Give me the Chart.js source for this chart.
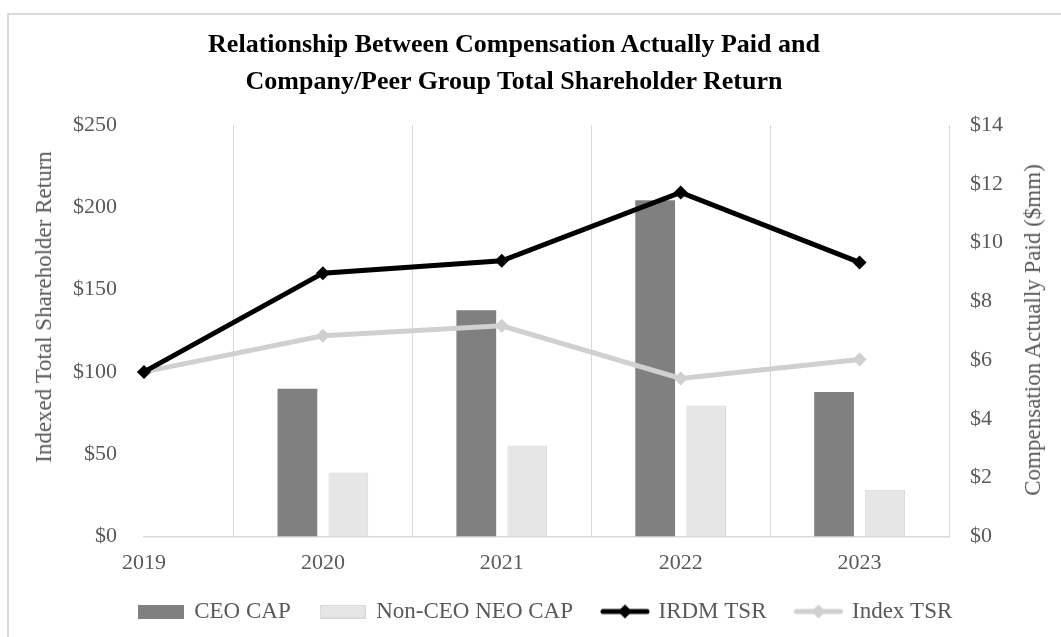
<!DOCTYPE html>
<html>
<head>
<meta charset="utf-8">
<script src="https://cdn.jsdelivr.net/npm/chart.js@4"></script>
<style>
  body { margin: 0; background: #fff; }
  #frame { position: absolute; left: 7px; top: 13px; width: 2000px; height: 2000px;
           border-left: 2px solid #d9d9d9; border-top: 2px solid #d9d9d9; }
  #chart { position: absolute; left: 0; top: 0; }
  #title { position: absolute; left: 0; top: 25px; width: 1028px; text-align: center;
           font: bold 26px/37px 'Liberation Serif', 'Times New Roman', serif; color: #000; }
  .ytitle { position: absolute; white-space: nowrap; color: #595959; line-height: 1;
            font: 23px 'Liberation Serif', 'Times New Roman', serif;
            transform: translate(-50%, -50%) rotate(-90deg); }
  #yLeft { left: 44px; top: 307px; }
  #yRight { left: 1033px; top: 330px; }
</style>
</head>
<body>
<div id="frame"></div>
<canvas id="chart" width="1061" height="637"></canvas>
<div id="title">Relationship Between Compensation Actually Paid and<br>Company/Peer Group Total Shareholder Return</div>
<div class="ytitle" id="yLeft">Indexed Total Shareholder Return</div>
<div class="ytitle" id="yRight">Compensation Actually Paid ($mm)</div>
<script>
const years = [2019, 2020, 2021, 2022, 2023];
const ceoCap = [null, 5.03, 7.70, 11.44, 4.92];
const neoCap = [null, 2.18, 3.10, 4.46, 1.59];
const irdmTsr = [100, 160, 167.5, 209, 166.5];
const indexTsr = [100, 122, 128, 96, 107.5];

const FONT = "'Liberation Serif', 'Times New Roman', serif";
const GREY_TEXT = "#595959";

function swatchBar(fill, stroke) {
    const c = document.createElement("canvas");
    c.width = 46; c.height = 14;
    const g = c.getContext("2d");
    g.fillStyle = fill;
    g.fillRect(0, 0, 46, 14);
    if (stroke) {
        g.strokeStyle = stroke;
        g.strokeRect(0.5, 0.5, 45, 13);
    }
    return c;
}

function swatchLine(color) {
    const c = document.createElement("canvas");
    c.width = 50; c.height = 16;
    const g = c.getContext("2d");
    g.strokeStyle = color;
    g.lineWidth = 5;
    g.lineCap = "round";
    g.beginPath();
    g.moveTo(3, 8); g.lineTo(47, 8);
    g.stroke();
    g.fillStyle = color;
    g.beginPath();
    g.moveTo(25, 1); g.lineTo(32, 8); g.lineTo(25, 15); g.lineTo(18, 8);
    g.closePath();
    g.fill();
    return c;
}

const legendIcons = [
    swatchBar("#808080"),
    swatchBar("#e7e6e6", "#d6d6d6"),
    swatchLine("#000000"),
    swatchLine("#d0d0d0")
];

const ctx = document.getElementById("chart").getContext("2d");

new Chart(ctx, {
    type: "bar",
    data: {
        labels: years,
        datasets: [
            {
                label: "CEO CAP",
                data: ceoCap,
                yAxisID: "y1",
                backgroundColor: "#808080",
                categoryPercentage: 0.57,
                barPercentage: 0.78,
                order: 2
            },
            {
                label: "Non-CEO NEO CAP",
                data: neoCap,
                yAxisID: "y1",
                backgroundColor: "#e7e6e6",
                borderColor: "#d6d6d6",
                borderWidth: 1,
                categoryPercentage: 0.57,
                barPercentage: 0.78,
                order: 2
            },
            {
                type: "line",
                label: "IRDM TSR",
                data: irdmTsr,
                yAxisID: "y",
                borderColor: "#000000",
                backgroundColor: "#000000",
                borderWidth: 5,
                pointStyle: "rectRot",
                pointRadius: 7,
                pointBorderWidth: 0,
                tension: 0,
                clip: false,
                order: 0
            },
            {
                type: "line",
                label: "Index TSR",
                data: indexTsr,
                yAxisID: "y",
                borderColor: "#d0d0d0",
                backgroundColor: "#d0d0d0",
                borderWidth: 5,
                pointStyle: "rectRot",
                pointRadius: 7,
                pointBorderWidth: 0,
                tension: 0,
                clip: false,
                order: 1
            }
        ]
    },
    options: {
        responsive: false,
        animation: false,
        layout: { padding: { left: 30, right: 0, top: 125, bottom: 4 } },
        plugins: {
            tooltip: { enabled: false },
            title: { display: false },
            legend: {
                position: "bottom",
                labels: {
                    color: GREY_TEXT,
                    font: { family: FONT, size: 23 },
                    usePointStyle: true,
                    pointStyleWidth: 44,
                    padding: 30,
                    sort: (a, b) => a.datasetIndex - b.datasetIndex,
                    generateLabels: chart => {
                        const items = Chart.defaults.plugins.legend.labels.generateLabels(chart);
                        return items.map(it => Object.assign(it, { pointStyle: legendIcons[it.datasetIndex], rotation: 0 }));
                    }
                }
            }
        },
        scales: {
            x: {
                type: "linear",
                min: 2019,
                max: 2023.5,
                offset: false,
                afterBuildTicks: s => { s.ticks = years.map(v => ({ value: v })); },
                afterFit: s => { s.height = 33.5; },
                grid: { display: true, offset: true, drawTicks: false, color: "#d9d9d9", lineWidth: 1 },
                border: { display: true, color: "#d9d9d9", width: 1.5 },
                ticks: {
                    autoSkip: false,
                    maxRotation: 0,
                    padding: 14,
                    color: GREY_TEXT,
                    font: { family: FONT, size: 22 },
                    callback: v => String(v)
                }
            },
            y: {
                position: "left",
                min: 0,
                max: 250,
                afterFit: s => { s.width = 114; },
                grid: { display: false, drawTicks: false },
                border: { display: false },
                ticks: {
                    stepSize: 50,
                    padding: 27,
                    color: GREY_TEXT,
                    font: { family: FONT, size: 22 },
                    callback: v => "$" + v
                }
            },
            y1: {
                position: "right",
                min: 0,
                max: 14,
                afterFit: s => { s.width = 112; },
                grid: { display: false, drawTicks: false },
                border: { display: false },
                ticks: {
                    stepSize: 2,
                    padding: 21,
                    color: GREY_TEXT,
                    font: { family: FONT, size: 22 },
                    callback: v => "$" + v
                }
            }
        }
    }
});
</script>
</body>
</html>
